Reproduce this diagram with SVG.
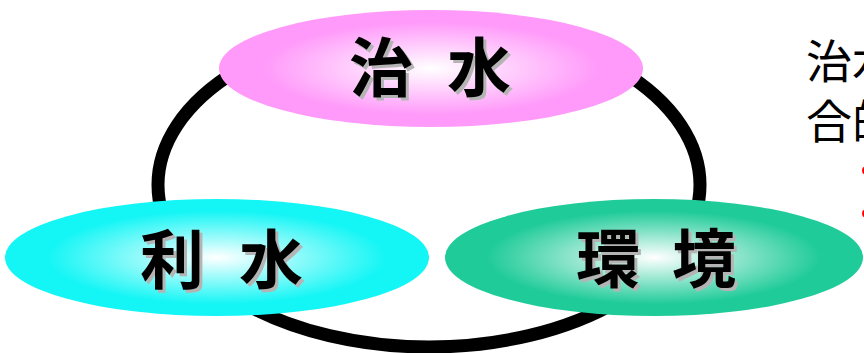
<svg xmlns="http://www.w3.org/2000/svg" width="864" height="353" viewBox="0 0 864 353">
  <defs>
    <radialGradient id="gPink" cx="0.5" cy="0.5" r="0.5">
      <stop offset="0" stop-color="#FFFFFF"/>
      <stop offset="0.8" stop-color="#FF99FA"/>
      <stop offset="1" stop-color="#FF99FA"/>
    </radialGradient>
    <radialGradient id="gCyan" cx="0.5" cy="0.5" r="0.5">
      <stop offset="0" stop-color="#FFFFFF"/>
      <stop offset="0.8" stop-color="#14F5F5"/>
      <stop offset="1" stop-color="#14F5F5"/>
    </radialGradient>
    <radialGradient id="gGreen" cx="0.5" cy="0.5" r="0.5">
      <stop offset="0" stop-color="#FFFFFF"/>
      <stop offset="0.8" stop-color="#1FCB99"/>
      <stop offset="1" stop-color="#1FCB99"/>
    </radialGradient>
  </defs>
  <style>
    .lbl { font-family: "Noto Sans CJK JP", "Noto Sans CJK SC", sans-serif; font-size: 64px; font-weight: 700; text-anchor: middle; }
    .shadow { fill: #B4B4B4; }
    .ink { fill: #000000; }
    .side { font-family: "Noto Sans CJK JP", "Noto Sans CJK SC", sans-serif; font-size: 46px; fill: #000000; }
  </style>
  <g id="connectors">
    <ellipse cx="429" cy="185" rx="271" ry="162" fill="none" stroke="#000000" stroke-width="13"/>
  </g>
  <g id="node-chisui">
    <ellipse cx="431" cy="68.5" rx="212" ry="58.5" fill="url(#gPink)"/>
    <text class="lbl shadow" x="384 433 482" y="94">治 水</text>
    <text class="lbl ink" x="381 430 479" y="91">治 水</text>
  </g>
  <g id="node-risui">
    <ellipse cx="217" cy="257.5" rx="212" ry="58.5" fill="url(#gCyan)"/>
    <text class="lbl shadow" x="175 224 274" y="286">利 水</text>
    <text class="lbl ink" x="172 221 271" y="283">利 水</text>
  </g>
  <g id="node-kankyo">
    <ellipse cx="654" cy="257.5" rx="209" ry="58.5" fill="url(#gGreen)"/>
    <text class="lbl shadow" x="611 659 707" y="285">環 境</text>
    <text class="lbl ink" x="608 656 704" y="282">環 境</text>
  </g>
  <g id="side-text">
    <text class="side" x="806" y="78">治水</text>
    <text class="side" x="806" y="138">合的</text>
    <circle cx="866" cy="170.5" r="4" fill="#FF0000"/>
    <circle cx="866" cy="213.5" r="4" fill="#FF0000"/>
  </g>
</svg>
